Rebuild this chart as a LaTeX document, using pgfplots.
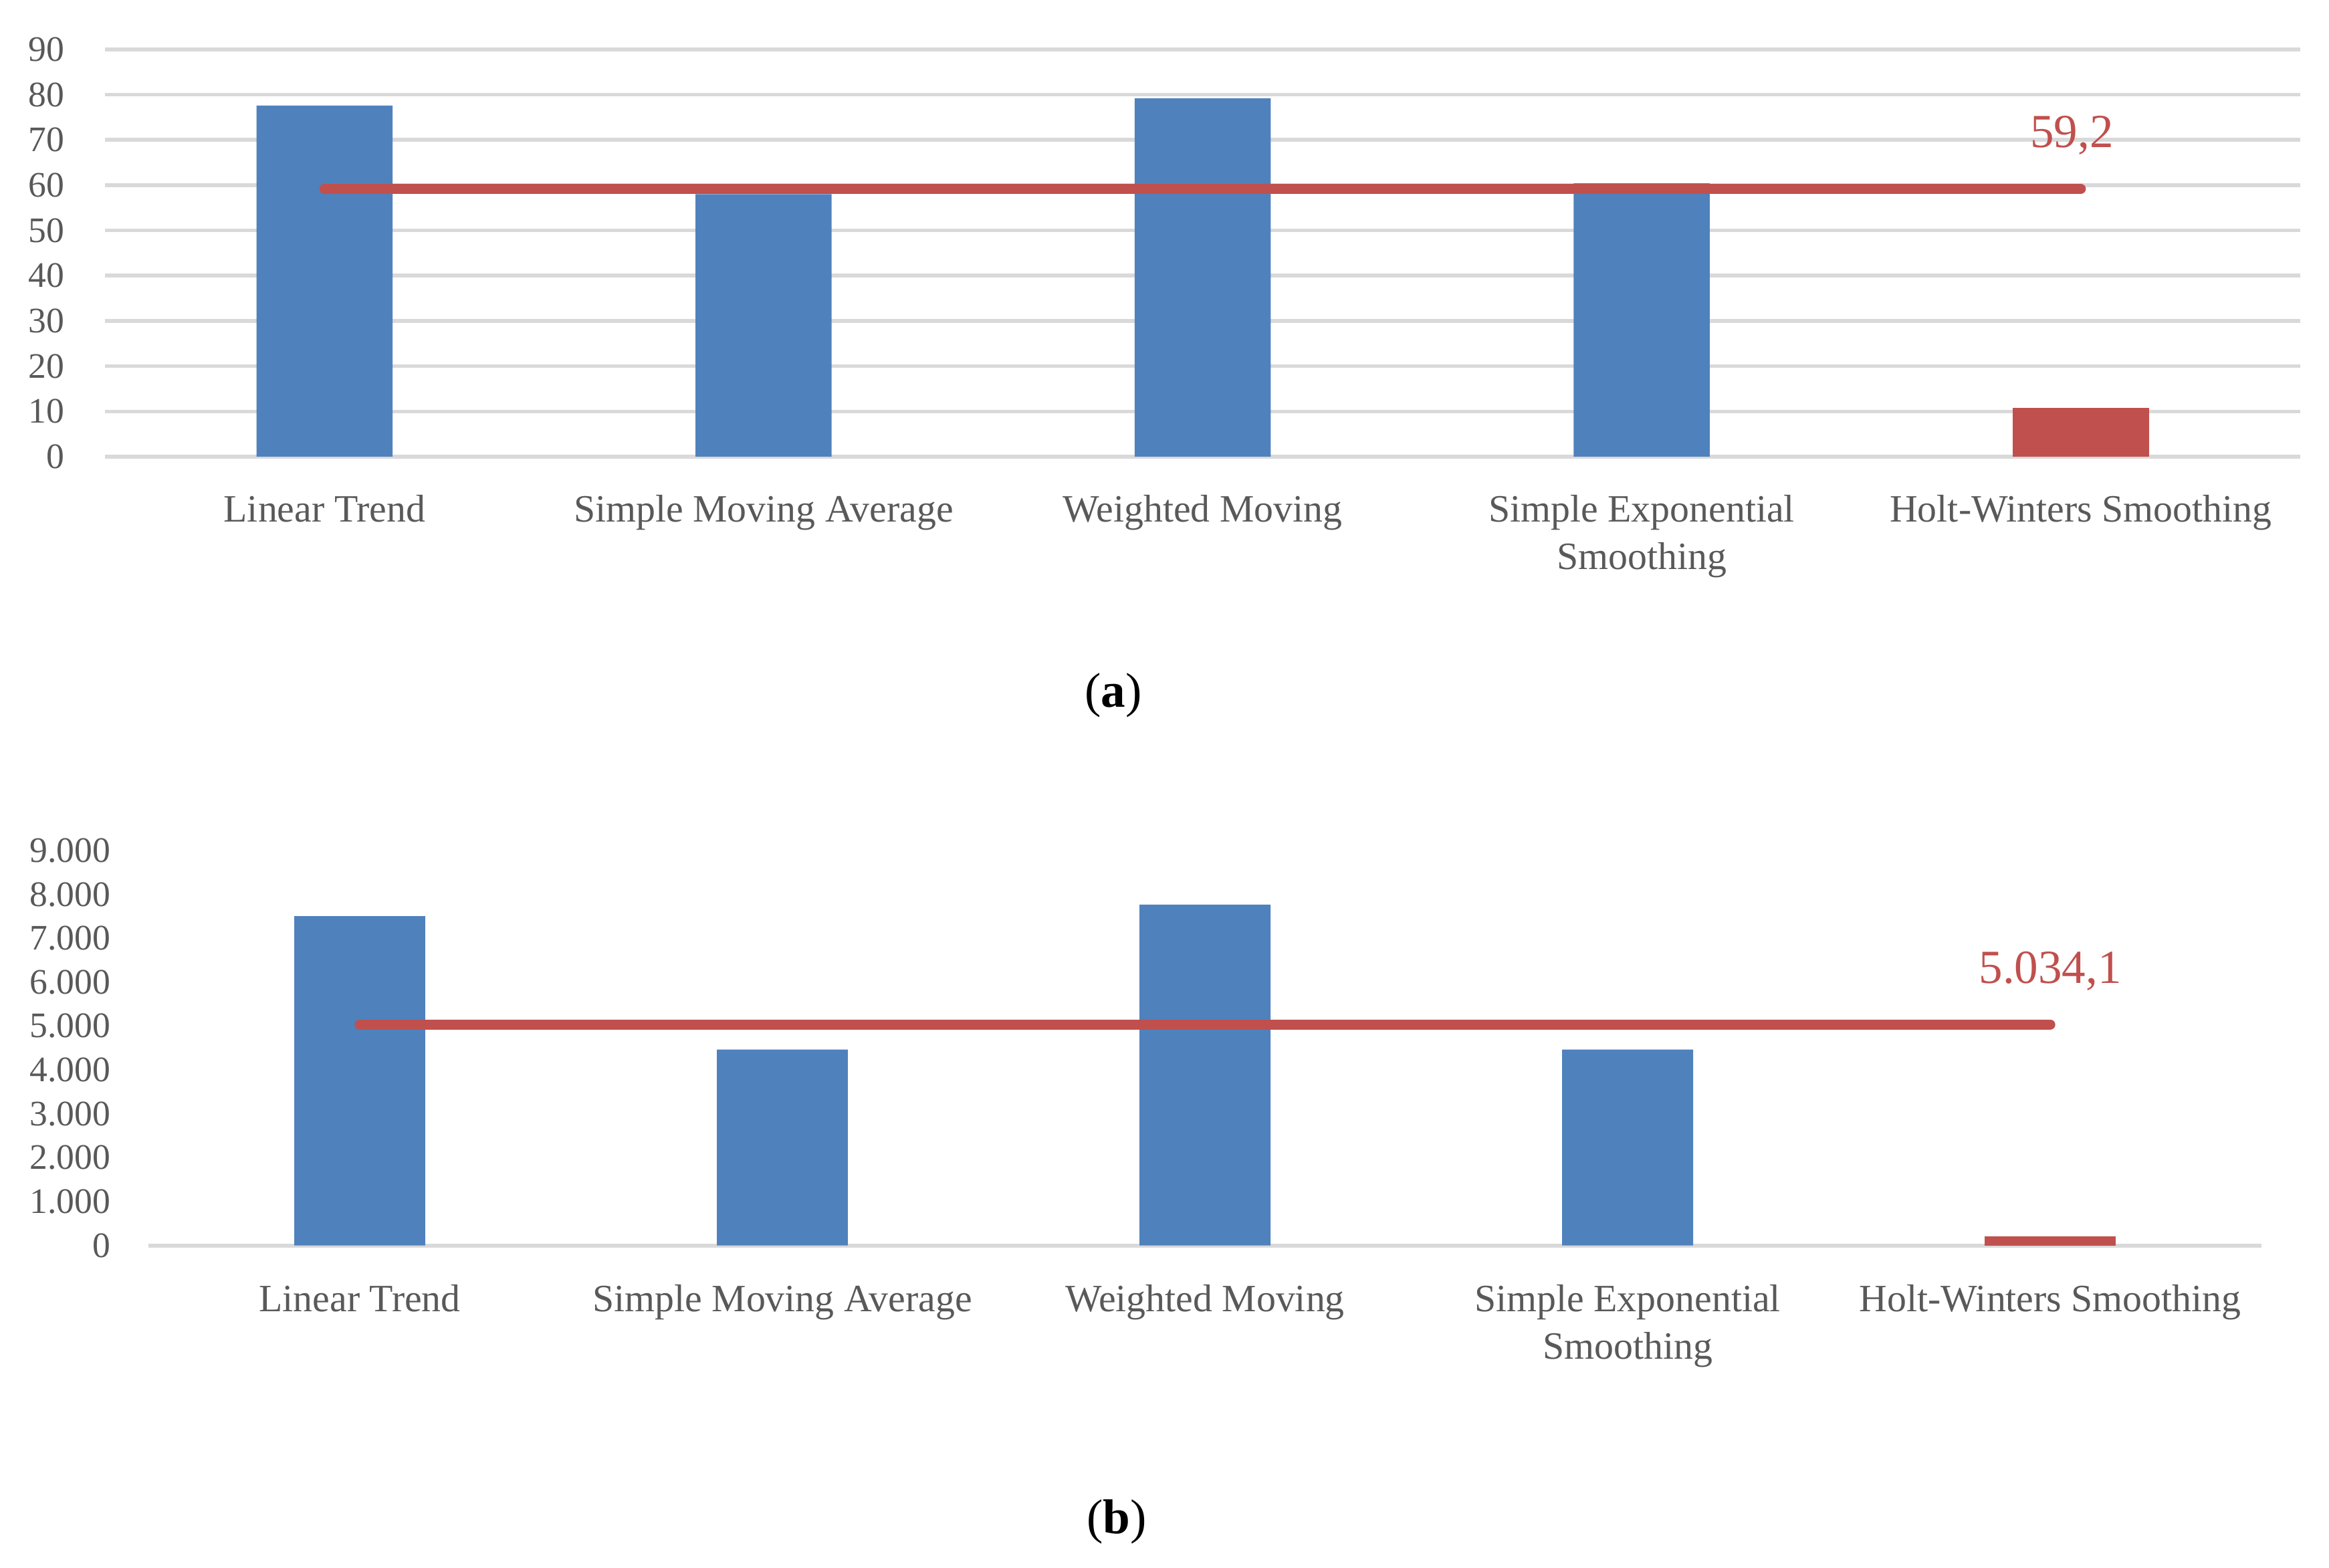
\documentclass[border=0pt]{standalone}
\usepackage{fontspec}
\setmainfont{Liberation Serif}
\usepackage{pgfplots}
\pgfplotsset{compat=1.18}
\definecolor{barblue}{HTML}{4F81BD}
\definecolor{barred}{HTML}{C0504D}
\definecolor{txtgray}{HTML}{595959}
\definecolor{gridgray}{HTML}{D9D9D9}

\pgfplotsset{
 mystyle/.style={
  scale only axis,
  xmin=-0.5, xmax=4.5, ymin=0,
  xtick={0,1,2,3,4},
  xticklabels={Linear Trend, Simple Moving Average, Weighted Moving, {Simple Exponential\\Smoothing}, Holt-Winters Smoothing},
  xticklabel style={align=center, font=\fontsize{8.3}{10.2}\selectfont, text=txtgray},
  yticklabel style={font=\fontsize{7.7}{9}\selectfont, text=txtgray},
  major tick length=0pt,
  axis line style={draw=none},
  scaled y ticks=false,
  /pgf/number format/assume math mode=true,
  /pgf/number format/1000 sep={.},
  clip=false,
 },
 bluebar/.style={ybar, bar width=0.31, bar shift=0pt, fill=barblue, draw=none},
 redbar/.style={ybar, bar width=0.31, bar shift=0pt, fill=barred, draw=none},
 avgline/.style={sharp plot, no marks, barred, line width=2.2pt, line cap=round},
}

\begin{document}
\begin{tikzpicture}
\path[use as bounding box] (0,0) rectangle (499.98pt,-336.48pt);

% ---------------- (a) ----------------
\begin{axis}[mystyle,
  at={(22.54pt,-98.04pt)}, anchor=south west,
  width=471.27pt, height=87.42pt,
  ymax=90, ytick={0,10,...,90},
  ymajorgrids, grid style={gridgray, line width=0.8pt},
  yticklabel style={xshift=-5.2pt},
  xticklabel style={yshift=-4.7pt},
]
\addplot[bluebar] coordinates {(0,77.6) (1,58.0) (2,79.2) (3,60.4)};
\addplot[redbar] coordinates {(4,10.8)};
\addplot[avgline] coordinates {(0,59.2) (1,59.2) (2,59.2) (3,59.2) (4,59.2)};
\node[text=barred, font=\fontsize{10.2}{12}\selectfont] at (axis cs:3.98,71) {59,2};
\end{axis}

\node[font=\fontsize{10.5}{12}\selectfont] at (239.0pt,-149.3pt) {(\textbf{a})};

% ---------------- (b) ----------------
\begin{axis}[mystyle,
  at={(31.87pt,-267.39pt)}, anchor=south west,
  width=453.62pt, height=84.80pt,
  ymax=9000, ytick={0,1000,...,9000},
  yticklabel style={xshift=-4.6pt},
  xticklabel style={yshift=-4.9pt},
]
\addplot[gridgray, line width=0.8pt, sharp plot, no marks] coordinates {(-0.5,0) (4.5,0)};
\addplot[bluebar] coordinates {(0,7506) (1,4465) (2,7768) (3,4467)};
\addplot[redbar] coordinates {(4,216)};
\addplot[avgline] coordinates {(0,5034.1) (1,5034.1) (2,5034.1) (3,5034.1) (4,5034.1)};
\node[text=barred, font=\fontsize{10.2}{12}\selectfont] at (axis cs:4,6250) {5.034,1};
\end{axis}

\node[font=\fontsize{10.5}{12}\selectfont] at (239.7pt,-326.7pt) {(\textbf{b})};
\end{tikzpicture}
\end{document}
